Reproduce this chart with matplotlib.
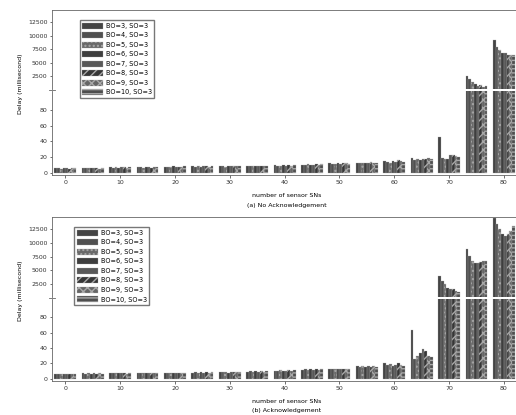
import numpy as np
import matplotlib
matplotlib.use("Agg")
import matplotlib.pyplot as plt

# number of sensor SNs (group positions)
sensors = [0, 5, 10, 15, 20, 25, 30, 35, 40, 45, 50, 55, 60, 65, 70, 75, 80]
xticks = [0, 10, 20, 30, 40, 50, 60, 70, 80]
labels = ["BO=3, SO=3", "BO=4, SO=3", "BO=5, SO=3", "BO=6, SO=3",
          "BO=7, SO=3", "BO=8, SO=3", "BO=9, SO=3", "BO=10, SO=3"]

# (a) no acknowledgement, delay in ms, one list per BO setting
a_bo3 = [6, 6, 7, 7, 7, 8, 8, 9, 10, 10, 12, 13, 15, 19, 45, 2500, 9230]
a_bo4 = [6, 6, 6, 7, 7, 7, 8, 8, 9, 10, 11, 12, 14, 16, 19, 1950, 7950]
a_bo5 = [5, 6, 7, 6, 7, 8, 7, 8, 9, 11, 11, 13, 13, 17, 17, 1400, 7400]
a_bo6 = [6, 6, 6, 7, 8, 7, 8, 9, 10, 10, 12, 12, 15, 16, 18, 1050, 6860]
a_bo7 = [6, 6, 7, 7, 7, 8, 8, 8, 9, 10, 11, 13, 14, 18, 22, 700, 6860]
a_bo8 = [5, 6, 7, 6, 7, 8, 9, 9, 10, 11, 12, 14, 16, 17, 23, 900, 6500]
a_bo9 = [6, 5, 6, 7, 7, 7, 8, 9, 9, 10, 12, 12, 15, 19, 21, 500, 6500]
a_bo10 = [6, 6, 7, 7, 8, 8, 8, 8, 10, 11, 11, 13, 14, 18, 20, 700, 6500]

# (b) acknowledgement
b_bo3 = [6, 7, 7, 8, 8, 8, 9, 9, 10, 11, 13, 16, 21, 64, 3950, 8860, 14500]
b_bo4 = [6, 6, 7, 7, 8, 9, 9, 10, 10, 12, 12, 15, 18, 25, 3050, 7590, 13400]
b_bo5 = [6, 7, 7, 7, 8, 8, 9, 9, 11, 11, 13, 16, 19, 30, 2500, 6680, 12500]
b_bo6 = [6, 6, 7, 8, 8, 9, 8, 10, 10, 12, 12, 15, 17, 34, 1770, 6320, 11590]
b_bo7 = [6, 7, 7, 7, 8, 8, 9, 9, 10, 11, 13, 16, 18, 39, 1590, 6320, 11230]
b_bo8 = [6, 6, 7, 8, 7, 9, 9, 10, 11, 12, 12, 15, 20, 36, 1590, 6500, 11590]
b_bo9 = [6, 7, 6, 7, 8, 8, 9, 9, 10, 11, 13, 16, 18, 30, 1230, 6680, 12140]
b_bo10 = [6, 6, 7, 8, 8, 9, 9, 10, 11, 12, 13, 15, 17, 28, 1050, 6680, 13050]

colors = ['#444444', '#505050', '#6a6a6a', '#3e3e3e', '#585858', '#363636', '#666666', '#4e4e4e']
hatches = [None, None, '....', None, None, '////', 'xxxx', '----']

FS = 4.5


def broken_chart(top, bottom, brk, series, title, leg_x):
    left, right = 0.101, 1.0
    ax_lo = fig.add_axes([left, bottom, right - left, brk - bottom - 0.002])
    ax_hi = fig.add_axes([left, brk + 0.002, right - left, top - brk - 0.002])
    w = 0.5
    handles = []
    for i, vals in enumerate(series):
        xs = np.array(sensors) + (i - 3.5) * w
        for ax in (ax_lo, ax_hi):
            b = ax.bar(xs, vals, width=w, color=colors[i], edgecolor='#a8a8a8',
                       linewidth=0.2, hatch=hatches[i], label=labels[i])
        handles.append(b)
    ax_lo.set_ylim(-3, 104)
    ax_hi.set_ylim(140, 14700)
    for ax in (ax_lo, ax_hi):
        ax.set_xlim(-2.4, 82.2)
        ax.tick_params(labelsize=FS, length=1.8, width=0.5, pad=1.5, colors='#333333')
        for s in ax.spines.values():
            s.set_linewidth(0.6)
            s.set_color('#666666')
        ax.spines['right'].set_visible(False)
    ax_lo.spines['top'].set_visible(False)
    ax_hi.spines['bottom'].set_visible(False)
    ax_hi.tick_params(axis='x', bottom=False, labelbottom=False)
    ax_lo.set_xticks(xticks)
    ax_lo.set_yticks([0, 20, 40, 60, 80])
    ax_hi.set_yticks([2500, 5000, 7500, 10000, 12500])
    # break mark on the left axis
    d = 0.006
    fig.add_artist(plt.Line2D([left - d, left + d], [brk, brk], color='#666666',
                              lw=0.6, transform=fig.transFigure))
    fig.legend(handles, labels, loc='upper left',
               bbox_to_anchor=(leg_x, top - 0.017),
               fontsize=4.7, handlelength=3.2, handleheight=1.05, labelspacing=0.5,
               borderpad=0.35, handletextpad=0.5, frameon=True, fancybox=False,
               edgecolor='#777777', framealpha=1)
    fig.text(0.04, (top + bottom) / 2 + 0.02, "Delay (millisecond)", rotation=90,
             ha='center', va='center', fontsize=FS)
    fig.text(0.555, bottom - 0.05, "number of sensor SNs", ha='center', va='center', fontsize=FS)
    fig.text(0.555, bottom - 0.072, title, ha='center', va='center', fontsize=FS)


fig = plt.figure(figsize=(5.16, 4.15), dpi=100)
broken_chart(0.976, 0.578, 0.783,
             [a_bo3, a_bo4, a_bo5, a_bo6, a_bo7, a_bo8, a_bo9, a_bo10],
             "(a) No Acknowledgement", 0.148)
broken_chart(0.477, 0.082, 0.282,
             [b_bo3, b_bo4, b_bo5, b_bo6, b_bo7, b_bo8, b_bo9, b_bo10],
             "(b) Acknowledgement", 0.138)
fig.savefig("out.png", dpi=100)
